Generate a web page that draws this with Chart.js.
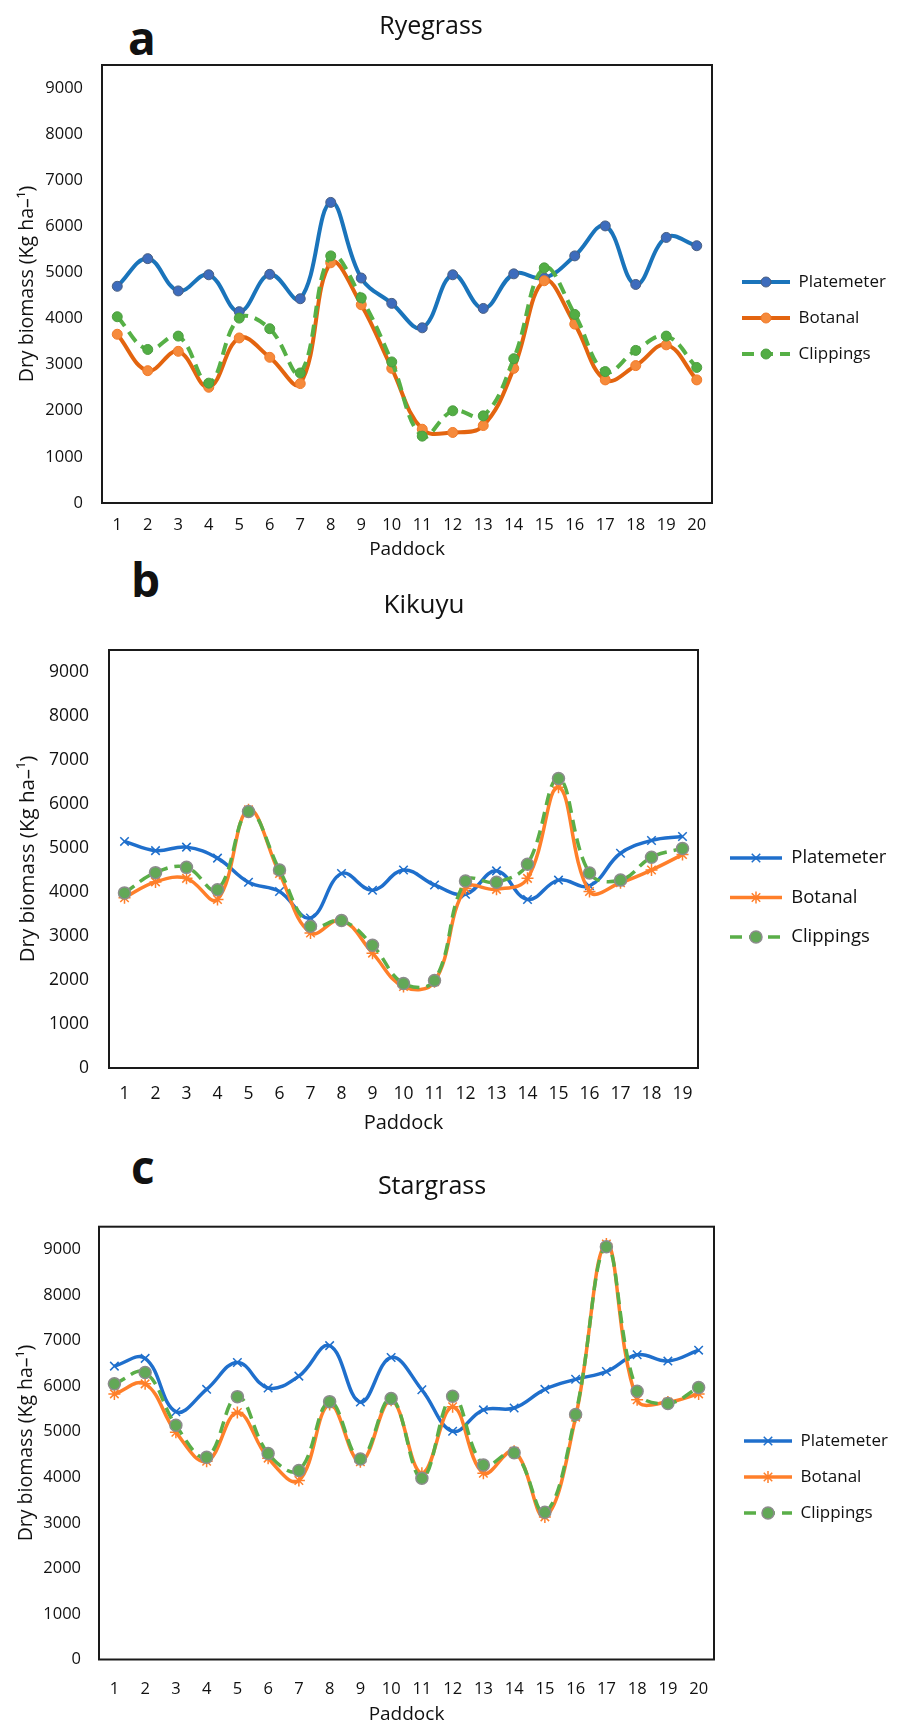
<!DOCTYPE html>
<html>
<head>
<meta charset="utf-8">
<script src="https://cdn.jsdelivr.net/npm/chart.js@4.4.1/dist/chart.umd.min.js"></script>
<style>
  body { margin: 0; background: #fff; width: 897px; height: 1726px; position: relative; overflow: hidden; }
  canvas { position: absolute; left: 0; }
  .tag { position: absolute; font: bold 46px/46px "Open Sans", sans-serif; color: #111; }
</style>
</head>
<body>
<div class="tag" style="left:128px;top:14px">a</div>
<div class="tag" style="left:131px;top:556px">b</div>
<div class="tag" style="left:131px;top:1143px">c</div>
<canvas id="ryegrass" width="897" height="565" style="top:0px"></canvas>
<canvas id="kikuyu" width="897" height="575" style="top:565px"></canvas>
<canvas id="stargrass" width="897" height="586" style="top:1140px"></canvas>
<script>
// paddock numbers
const paddocks20 = ['1','2','3','4','5','6','7','8','9','10','11','12','13','14','15','16','17','18','19','20'];
const paddocks19 = ['1','2','3','4','5','6','7','8','9','10','11','12','13','14','15','16','17','18','19'];

// a - Ryegrass
const ryePlatemeter = [4700, 5300, 4600, 4950, 4150, 4960, 4430, 6520, 4880, 4330, 3800, 4950, 4220, 4970, 4880, 5360, 6010, 4740, 5760, 5580];
const ryeBotanal    = [3660, 2870, 3290, 2510, 3580, 3160, 2590, 5210, 4300, 2920, 1600, 1530, 1680, 2920, 4820, 3880, 2670, 2980, 3430, 2670];
const ryeClippings  = [4040, 3330, 3620, 2600, 4010, 3780, 2820, 5360, 4450, 3060, 1450, 2000, 1890, 3130, 5100, 4090, 2850, 3310, 3620, 2940];

// b - Kikuyu
const kikPlatemeter = [5150, 4940, 5020, 4770, 4220, 4010, 3410, 4420, 4040, 4500, 4160, 3950, 4480, 3830, 4270, 4140, 4880, 5170, 5260];
const kikBotanal    = [3870, 4230, 4310, 3830, 5870, 4420, 3070, 3360, 2610, 1850, 1960, 4080, 4060, 4310, 6380, 4010, 4210, 4500, 4850];
const kikClippings  = [3980, 4440, 4560, 4050, 5830, 4500, 3220, 3350, 2790, 1920, 1990, 4250, 4220, 4630, 6580, 4430, 4270, 4790, 4990];

// c - Stargrass
const starPlatemeter = [6440, 6610, 5440, 5930, 6520, 5960, 6220, 6890, 5650, 6630, 5920, 5010, 5480, 5520, 5930, 6150, 6320, 6690, 6550, 6790];
const starBotanal    = [5830, 6050, 4990, 4350, 5420, 4420, 3930, 5600, 4340, 5690, 4090, 5550, 4090, 4570, 3130, 5320, 9120, 5700, 5650, 5830];
const starClippings  = [6050, 6300, 5140, 4440, 5770, 4520, 4150, 5660, 4400, 5730, 3980, 5780, 4270, 4540, 3230, 5380, 9060, 5890, 5620, 5970];

// y axis: runs a bit past the last tick
const yMax = 9500;
const yTicks = [0, 1000, 2000, 3000, 4000, 5000, 6000, 7000, 8000, 9000];

const family = '"Open Sans", sans-serif';
Chart.defaults.font.family = family;
Chart.defaults.color = '#111';

// box round the plot area
const frame = {
  id: 'frame',
  beforeDatasetsDraw(chart) {
    const { left, top, width, height } = chart.chartArea;
    const ctx = chart.ctx;
    ctx.save();
    ctx.strokeStyle = '#1a1a1a';
    ctx.lineWidth = 2;
    ctx.strokeRect(left, top, width, height);
    ctx.restore();
  }
};

// put the legend where the original has it
const legendPlace = {
  id: 'legendPlace',
  afterLayout(chart, args, opts) {
    const lg = chart.legend;
    const pad = opts.pad;
    const h = lg.bottom - lg.top;
    lg.left = opts.x - pad;
    lg.right = chart.width;
    lg.width = lg.right - lg.left;
    lg.top = opts.y - opts.size / 2 - pad;
    lg.bottom = lg.top + h;
  }
};

// marker in the middle of each legend line
const legendMarkers = {
  id: 'legendMarkers',
  afterDraw(chart, args, opts) {
    const lg = chart.legend;
    const ctx = chart.ctx;
    lg.legendItems.forEach((item, i) => {
      const hb = lg.legendHitBoxes[i];
      const ds = chart.data.datasets[item.datasetIndex];
      ctx.save();
      ctx.setLineDash([]);
      ctx.fillStyle = ds.pointBackgroundColor;
      ctx.strokeStyle = ds.pointBorderColor;
      ctx.lineWidth = ds.pointBorderWidth;
      Chart.helpers.drawPoint(ctx, {
        pointStyle: ds.pointStyle, radius: ds.pointRadius, borderWidth: ds.pointBorderWidth, rotation: 0
      }, hb.left + opts.lineLen / 2, hb.top + opts.size / 2);
      ctx.restore();
    });
  }
};

function series(label, data, s) {
  return {
    label, data,
    borderColor: s.color, borderWidth: s.width, borderDash: s.dash || [],
    pointStyle: s.point, pointRadius: s.radius,
    pointBackgroundColor: s.fill, pointBorderColor: s.stroke, pointBorderWidth: s.pw,
    tension: 0.4, fill: false, order: s.order
  };
}

function panel(id, labels, datasets, L) {
  const H = document.getElementById(id).height;
  new Chart(document.getElementById(id), {
    type: 'line',
    data: { labels, datasets },
    options: {
      responsive: false,
      animation: false,
      devicePixelRatio: 1,
      events: [],
      layout: { padding: { left: 0, top: 0, right: 897 - 150 - L.right, bottom: 0 } },
      plugins: {
        title: {
          display: true, text: L.title, color: '#111',
          font: { size: L.titleSize, weight: 'normal' },
          padding: { top: L.titleY - L.titleSize * 0.6, bottom: L.top - L.titleY - L.titleSize * 0.6 }
        },
        legend: {
          position: 'right', align: 'start', maxWidth: 150,
          labels: {
            usePointStyle: true, pointStyleWidth: L.lineLen, padding: L.legendGap - L.legendSize,
            color: '#111', font: { size: L.legendSize },
            generateLabels(chart) {
              return chart.data.datasets.map((ds, i) => ({
                text: ds.label, datasetIndex: i, hidden: false,
                fillStyle: ds.borderColor, strokeStyle: ds.borderColor,
                lineWidth: ds.borderWidth, lineDash: ds.borderDash, pointStyle: 'line', fontColor: '#111'
              }));
            }
          }
        },
        tooltip: { enabled: false },
        legendPlace: { x: L.legendX, y: L.legendY, size: L.legendSize, pad: L.legendGap - L.legendSize },
        legendMarkers: { lineLen: L.lineLen, size: L.legendSize }
      },
      scales: {
        x: {
          offset: true,
          grid: { display: false, drawTicks: false },
          border: { display: false },
          ticks: { autoSkip: false, maxRotation: 0, color: '#111', font: { size: L.tickSize },
                   padding: L.xTickY - L.bottom - L.tickSize * 0.6 },
          title: { display: true, text: 'Paddock', color: '#111', font: { size: L.axisSize },
                   padding: { top: 0, bottom: H - L.xTitleY - L.axisSize * 0.6 } },
          afterFit(scale) { scale.height = H - L.bottom; }
        },
        y: {
          min: 0, max: yMax,
          grid: { display: false, drawTicks: false },
          border: { display: false },
          ticks: { color: '#111', font: { size: L.tickSize }, padding: L.left - L.yTickRight,
                   callback: v => String(v) },
          afterBuildTicks(scale) { scale.ticks = yTicks.map(v => ({ value: v })); },
          title: { display: true, text: 'Dry biomass (Kg ha–¹)', color: '#111', font: { size: L.ySize },
                   padding: { top: L.yTitleX - L.ySize * 0.6, bottom: 0 } },
          afterFit(scale) { scale.width = L.left; }
        }
      }
    },
    plugins: [frame, legendPlace, legendMarkers]
  });
}

// colours of panel a
const aBlue = { color: '#1a74bb', width: 4, point: 'circle', radius: 5, fill: '#3d6cbd', stroke: '#4a5f80', pw: 1, order: 3 };
const aOrange = { color: '#e3640f', width: 4, point: 'circle', radius: 5, fill: '#f68a3b', stroke: '#f07a2a', pw: 1, order: 2 };
const aGreen = { color: '#56b046', width: 4, dash: [12, 7], point: 'circle', radius: 5, fill: '#52ad44', stroke: '#4d9d41', pw: 1, order: 1 };
// colours of panels b and c
const bBlue = { color: '#1f6fcc', width: 3.5, point: 'crossRot', radius: 6, fill: '#1f6fcc', stroke: '#1f6fcc', pw: 1.5, order: 3 };
const bOrange = { color: '#ff7f2a', width: 3.5, point: 'star', radius: 6, fill: '#ff7f2a', stroke: '#ff7f2a', pw: 1.5, order: 2 };
const bGreen = { color: '#5aae48', width: 3.5, dash: [12, 7], point: 'circle', radius: 6, fill: '#62a857', stroke: '#8c8c8c', pw: 1.5, order: 1 };

panel('ryegrass', paddocks20, [
  series('Platemeter', ryePlatemeter, aBlue),
  series('Botanal', ryeBotanal, aOrange),
  series('Clippings', ryeClippings, aGreen)
], { title: 'Ryegrass', titleSize: 25, titleY: 27, top: 65, bottom: 503, left: 102, right: 712,
     tickSize: 16.5, axisSize: 19, ySize: 19.5, yTickRight: 83, yTitleX: 27, xTickY: 525, xTitleY: 550,
     legendX: 742, legendY: 282, legendSize: 17, legendGap: 36, lineLen: 48 });

panel('kikuyu', paddocks19, [
  series('Platemeter', kikPlatemeter, bBlue),
  series('Botanal', kikBotanal, bOrange),
  series('Clippings', kikClippings, bGreen)
], { title: 'Kikuyu', titleSize: 26, titleY: 41, top: 85, bottom: 503, left: 109, right: 698,
     tickSize: 17.5, axisSize: 20, ySize: 20.5, yTickRight: 89, yTitleX: 28, xTickY: 529, xTitleY: 558,
     legendX: 730, legendY: 293, legendSize: 18.5, legendGap: 39.5, lineLen: 52 });

panel('stargrass', paddocks20, [
  series('Platemeter', starPlatemeter, bBlue),
  series('Botanal', starBotanal, bOrange),
  series('Clippings', starClippings, bGreen)
], { title: 'Stargrass', titleSize: 25, titleY: 47, top: 86.7, bottom: 519.5, left: 99, right: 714,
     tickSize: 16.5, axisSize: 19, ySize: 19.5, yTickRight: 81, yTitleX: 26, xTickY: 549, xTitleY: 575,
     legendX: 744, legendY: 301, legendSize: 17, legendGap: 36, lineLen: 48 });
</script>
</body>
</html>
